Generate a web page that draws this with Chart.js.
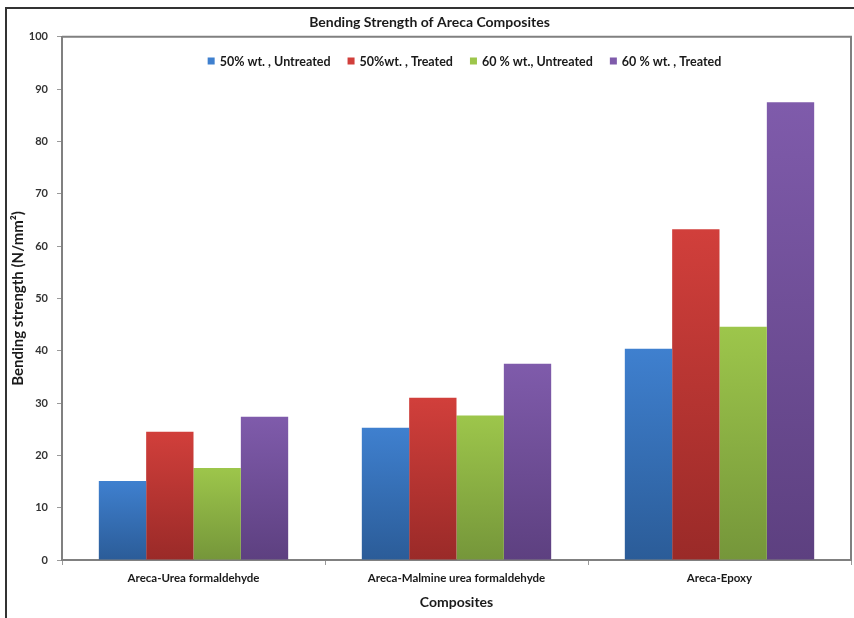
<!DOCTYPE html>
<html>
<head>
<meta charset="utf-8">
<script src="https://cdn.jsdelivr.net/npm/chart.js@4"></script>
<style>
  html, body { margin: 0; padding: 0; background: #fff; }
  #wrap { width: 854px; height: 618px; }
</style>
</head>
<body>
<div id="wrap"><canvas id="bendChart" width="854" height="618"></canvas></div>
<script>
// data
var categories = ['Areca-Urea formaldehyde', 'Areca-Malmine urea formaldehyde', 'Areca-Epoxy'];
var seriesLabels = ['50% wt. , Untreated', '50%wt. , Treated', '60 % wt., Untreated', '60 % wt. , Treated'];
var untreated50 = [15.1, 25.3, 40.4];
var treated50 = [24.5, 31.0, 63.2];
var untreated60 = [17.6, 27.6, 44.6];
var treated60 = [27.4, 37.5, 87.5];
var yMin = 0, yMax = 100, yStep = 10;

// top / bottom colours of the excel-style gradient
var colTop = ['#3f80cf', '#d13f3b', '#9dc64b', '#7f5bab'];
var colBot = ['#2b5c98', '#9a2a28', '#75963a', '#5d4080'];

function barGradient(i) {
    return function (context) {
        var chart = context.chart;
        if (!chart.chartArea || context.type !== 'data') return colTop[i];
        var y = chart.scales.y;
        var top = y.getPixelForValue(context.raw);
        var base = y.getPixelForValue(0);
        if (!isFinite(top) || base - top < 1) return colTop[i];
        var g = chart.ctx.createLinearGradient(0, top, 0, base);
        g.addColorStop(0, colTop[i]);
        g.addColorStop(1, colBot[i]);
        return g;
    };
}

var allSeries = [untreated50, treated50, untreated60, treated60];
var datasets = allSeries.map(function (vals, i) {
    return {
        label: seriesLabels[i],
        data: vals,
        backgroundColor: barGradient(i),
        legendColor: colTop[i],
        borderWidth: 0
    };
});

// frame round the whole picture + box round the plot area
var framePlugin = {
    id: 'frames',
    beforeDraw: function (chart) {
        var ctx = chart.ctx;
        ctx.save();
        ctx.strokeStyle = '#333';
        ctx.lineWidth = 2;
        ctx.beginPath();
        ctx.moveTo(6, 618);
        ctx.lineTo(6, 8);
        ctx.lineTo(854, 8);
        ctx.stroke();
        ctx.restore();
    },
    afterDraw: function (chart) {
        var a = chart.chartArea, ctx = chart.ctx;
        ctx.save();
        ctx.strokeStyle = '#808080';
        ctx.lineWidth = 2;
        ctx.beginPath();
        ctx.moveTo(a.left, a.top);
        ctx.lineTo(a.right, a.top);
        ctx.lineTo(a.right, a.bottom);
        ctx.stroke();
        ctx.restore();
    }
};

// legend sits inside the plot area, like the excel original
var innerLegend = {
    id: 'innerLegend',
    afterDraw: function (chart) {
        var ctx = chart.ctx, a = chart.chartArea;
        ctx.save();
        ctx.font = 'bold 12.5px Lato';
        ctx.textBaseline = 'middle';
        var box = 7, gapText = 5, gapItem = 17;
        var widths = chart.data.datasets.map(function (d) { return ctx.measureText(d.label).width; });
        var total = 0;
        widths.forEach(function (w, i) { total += box + gapText + w + (i < widths.length - 1 ? gapItem : 0); });
        var x = (a.left + a.right) / 2 + 8 - total / 2;
        var y = 61;
        chart.data.datasets.forEach(function (d, i) {
            ctx.fillStyle = d.legendColor;
            ctx.fillRect(x, y - box / 2, box, box);
            x += box + gapText;
            ctx.fillStyle = '#1a1a1a';
            ctx.fillText(d.label, x, y + 1);
            x += widths[i] + gapItem;
        });
        ctx.restore();
    }
};

var ctx = document.getElementById('bendChart').getContext('2d');
var bendChart = new Chart(ctx, {
    type: 'bar',
    data: {
        labels: categories,
        datasets: datasets
    },
    plugins: [framePlugin, innerLegend],
    options: {
        responsive: false,
        animation: false,
        categoryPercentage: 0.72,
        barPercentage: 1.0,
        layout: {
            padding: { left: 8, right: 3, top: 0, bottom: 0 }
        },
        plugins: {
            legend: { display: false },
            tooltip: { enabled: false },
            title: {
                display: true,
                text: 'Bending Strength of Areca Composites',
                color: '#1a1a1a',
                font: { family: 'Lato', size: 14, weight: 'bold' },
                padding: { top: 14, bottom: 6 }
            }
        },
        scales: {
            x: {
                grid: {
                    drawOnChartArea: false,
                    drawTicks: true,
                    tickLength: 5,
                    color: '#9a9a9a',
                    offset: true
                },
                border: { color: '#808080', width: 2 },
                ticks: {
                    color: '#1a1a1a',
                    padding: 6,
                    font: { family: 'Lato', size: 11.5, weight: 'bold' }
                },
                title: {
                    display: true,
                    text: 'Composites',
                    color: '#1a1a1a',
                    font: { family: 'Lato', size: 14, weight: 'bold' },
                    padding: { top: 4, bottom: 7 }
                },
                afterFit: function (scale) { scale.height = 58; }
            },
            y: {
                min: yMin,
                max: yMax,
                grid: {
                    drawOnChartArea: false,
                    drawTicks: true,
                    tickLength: 5,
                    color: '#9a9a9a'
                },
                border: { color: '#808080', width: 2 },
                ticks: {
                    stepSize: yStep,
                    color: '#333',
                    padding: 9,
                    font: { family: 'Lato', size: 11, weight: 'bold' }
                },
                title: {
                    display: true,
                    text: 'Bending strength (N/mm²)',
                    color: '#1a1a1a',
                    font: { family: 'Lato', size: 15, weight: 'bold' },
                    padding: { top: 1, bottom: 0 }
                },
                afterFit: function (scale) { scale.width = 54; }
            }
        }
    }
});
</script>
</body>
</html>
